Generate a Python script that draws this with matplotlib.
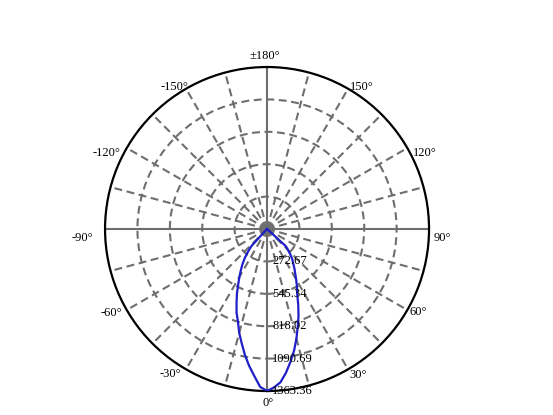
import numpy as np
import matplotlib
matplotlib.use("Agg")
import matplotlib.pyplot as plt
import matplotlib.transforms as mtransforms

plt.rcParams['font.family'] = ['Liberation Serif', 'DejaVu Serif']

# candela curve (deg, cd)
angles_right = [0, 2.5, 5, 7.5, 10, 12.5, 15, 17.5, 20, 22.5, 25, 27.5, 30, 32.5,
                35, 37.5, 40, 42.5, 45, 47.5, 50, 55, 60, 90, 120, 150, 180]
values_right = [1363, 1335, 1295, 1220, 1135, 1050, 955, 860, 775, 685, 600, 545, 490, 440,
                400, 360, 330, 290, 250, 215, 10, 0, 0, 0, 0, 0, 0]
angles_left = [0, 2.5, 5, 7.5, 10, 12.5, 15, 17.5, 20, 22.5, 25, 27.5, 30, 32.5,
               35, 37.5, 40, 42.5, 45, 50, 60, 90, 120, 150, 180]
values_left = [1363, 1330, 1240, 1160, 1075, 985, 905, 815, 750, 670, 600, 525, 465, 410,
               360, 308, 250, 195, 10, 0, 0, 0, 0, 0, 0]

ring_values = [272.67, 545.34, 818.02, 1090.69, 1363.36]
ring_labels = ["272.67", "545.34", "818.02", "1090.69", "1363.36"]
theta_ticks = [0, 30, 60, 90, 120, 150, 180, -150, -120, -90, -60, -30]
theta_labels = ["0°", "30°", "60°", "90°", "120°", "150°", "±180°",
                "-150°", "-120°", "-90°", "-60°", "-30°"]

rmax = ring_values[-1]

fig = plt.figure(figsize=(5.53, 4.15), dpi=100)
ax = fig.add_axes([0.1899, 0.0578, 0.586, 0.7807], projection='polar')
ax.set_theta_zero_location('S')
ax.set_theta_direction(1)
ax.set_ylim(0, rmax)

grid_col = '#6e6e6e'
ax.set_xticks(np.deg2rad(np.arange(0, 360, 15)))
ax.set_xticklabels([])
ax.set_yticks(ring_values[:-1])
ax.set_yticklabels([])
ax.tick_params(length=0)
ax.grid(True, color=grid_col, linewidth=1.5, linestyle=(0, (3.8, 2.2)))
for i, gl in enumerate(ax.xaxis.get_gridlines()):
    if (i * 15) % 90 == 0:
        gl.set_linestyle('-')
ax.spines['polar'].set_color('black')
ax.spines['polar'].set_linewidth(1.6)

# curve: left side is negative angles, go from -180 through 0 to 180
th = [-a for a in angles_left[::-1]] + angles_right[1:]
rv = values_left[::-1] + values_right[1:]
ax.plot(np.deg2rad(th), rv, color='#1f1fc8', linewidth=1.6, zorder=5)

# radial labels along the 0 deg axis
off = mtransforms.offset_copy(ax.transData, fig=fig, x=5, y=0, units='dots')
for r, lab in zip(ring_values, ring_labels):
    ax.text(0, r, lab, transform=off, ha='left', va='center', fontsize=9, zorder=6)

# angle label placement: alignment and pixel offset from the rim point
label_place = {
    0: ('center', 'top', 1, -6),
    30: ('left', 'top', 1, 0),
    60: ('left', 'top', 2, 4),
    90: ('left', 'top', 5, -3),
    120: ('left', 'top', 6, 1),
    150: ('left', 'center', 2, 2),
    180: ('center', 'bottom', -2, 5),
    -150: ('right', 'center', 2, 2),
    -120: ('right', 'top', -6, 1),
    -90: ('right', 'top', -12, -3),
    -60: ('right', 'top', -5, 3),
    -30: ('right', 'top', -5, 1),
}
for a, lab in zip(theta_ticks, theta_labels):
    ha, va, dx, dy = label_place[a]
    ax.annotate(lab, xy=(np.deg2rad(a), rmax), xytext=(dx * 0.72, dy * 0.72),
                textcoords='offset points', ha=ha, va=va, fontsize=9,
                annotation_clip=False)

fig.savefig('out.png', dpi=100)
